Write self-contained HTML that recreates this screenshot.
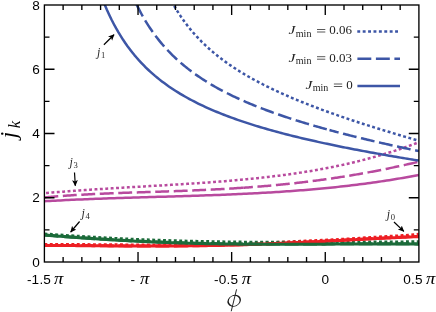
<!DOCTYPE html>
<html><head><meta charset="utf-8"><title>chart</title>
<style>html,body{margin:0;padding:0;background:#fff;}body{width:436px;height:312px;overflow:hidden;font-family:"Liberation Sans",sans-serif;}svg{display:block;} svg text{filter:grayscale(1);}</style>
</head><body>
<svg width="436" height="312" viewBox="0 0 436 312">
<defs><clipPath id="c"><rect x="44.4" y="5.0" width="374.5" height="257.0"/></clipPath>
<marker id="ah" markerWidth="10" markerHeight="10" refX="5.6" refY="3" orient="auto" markerUnits="userSpaceOnUse"><path d="M0,0.1 L6.2,3 L0,5.9 L1.5,3 Z" fill="#000"/></marker></defs>
<g clip-path="url(#c)" fill="none" stroke-linejoin="round">
<path d="M44.40,244.40 L47.09,244.40 L49.79,244.40 L52.48,244.40 L55.18,244.41 L57.87,244.42 L60.57,244.43 L63.26,244.44 L65.95,244.46 L68.65,244.47 L71.34,244.49 L74.04,244.51 L76.73,244.53 L79.43,244.54 L82.12,244.57 L84.81,244.59 L87.51,244.61 L90.20,244.63 L92.90,244.65 L95.59,244.67 L98.28,244.69 L100.98,244.72 L103.67,244.74 L106.37,244.76 L109.06,244.78 L111.76,244.80 L114.45,244.82 L117.14,244.84 L119.84,244.86 L122.53,244.87 L125.23,244.89 L127.92,244.91 L130.62,244.92 L133.31,244.93 L136.00,244.94 L138.70,244.95 L141.39,244.96 L144.09,244.97 L146.78,244.97 L149.48,244.97 L152.17,244.98 L154.86,244.98 L157.56,244.97 L160.25,244.97 L162.95,244.96 L165.64,244.95 L168.34,244.94 L171.03,244.93 L173.72,244.91 L176.42,244.90 L179.11,244.88 L181.81,244.85 L184.50,244.83 L187.19,244.80 L189.89,244.77 L192.58,244.74 L195.28,244.71 L197.97,244.67 L200.67,244.63 L203.36,244.59 L206.05,244.54 L208.75,244.50 L211.44,244.45 L214.14,244.39 L216.83,244.34 L219.53,244.28 L222.22,244.22 L224.91,244.15 L227.61,244.09 L230.30,244.02 L233.00,243.95 L235.69,243.87 L238.39,243.80 L241.08,243.72 L243.77,243.64 L246.47,243.55 L249.16,243.46 L251.86,243.37 L254.55,243.28 L257.25,243.19 L259.94,243.09 L262.63,242.99 L265.33,242.89 L268.02,242.78 L270.72,242.68 L273.41,242.57 L276.11,242.46 L278.80,242.35 L281.49,242.23 L284.19,242.11 L286.88,241.99 L289.58,241.87 L292.27,241.75 L294.96,241.62 L297.66,241.50 L300.35,241.37 L303.05,241.24 L305.74,241.11 L308.44,240.97 L311.13,240.84 L313.82,240.71 L316.52,240.58 L319.21,240.45 L321.91,240.33 L324.60,240.20 L327.30,240.07 L329.99,239.94 L332.68,239.81 L335.38,239.68 L338.07,239.54 L340.77,239.40 L343.46,239.25 L346.16,239.09 L348.85,238.92 L351.54,238.76 L354.24,238.58 L356.93,238.41 L359.63,238.23 L362.32,238.05 L365.02,237.87 L367.71,237.69 L370.40,237.51 L373.10,237.34 L375.79,237.17 L378.49,237.01 L381.18,236.85 L383.87,236.70 L386.57,236.55 L389.26,236.40 L391.96,236.25 L394.65,236.10 L397.35,235.95 L400.04,235.79 L402.73,235.62 L405.43,235.42 L408.12,235.21 L410.82,234.99 L413.51,234.75 L416.21,234.51 L418.90,234.26" stroke="#ed1f24" stroke-width="3.0" stroke-dasharray="2.9 2.5"/>
<path d="M170.00,-1.80 L171.79,1.56 L173.58,4.78 L175.37,7.85 L177.16,10.79 L178.95,13.62 L180.74,16.32 L182.53,18.93 L184.33,21.43 L186.12,23.85 L187.91,26.18 L189.70,28.42 L191.49,30.60 L193.28,32.70 L195.07,34.73 L196.86,36.70 L198.65,38.61 L200.44,40.46 L202.23,42.26 L204.02,44.01 L205.81,45.72 L207.60,47.37 L209.39,48.98 L211.18,50.56 L212.98,52.09 L214.77,53.59 L216.56,55.05 L218.35,56.47 L220.14,57.87 L221.93,59.23 L223.72,60.57 L225.51,61.87 L227.30,63.15 L229.09,64.41 L230.88,65.64 L232.67,66.84 L234.46,68.03 L236.25,69.19 L238.04,70.33 L239.84,71.45 L241.63,72.55 L243.42,73.63 L245.21,74.70 L247.00,75.74 L248.79,76.78 L250.58,77.79 L252.37,78.79 L254.16,79.77 L255.95,80.75 L257.74,81.70 L259.53,82.65 L261.32,83.58 L263.11,84.49 L264.90,85.40 L266.69,86.29 L268.49,87.18 L270.28,88.05 L272.07,88.91 L273.86,89.76 L275.65,90.60 L277.44,91.44 L279.23,92.26 L281.02,93.07 L282.81,93.88 L284.60,94.67 L286.39,95.46 L288.18,96.24 L289.97,97.01 L291.76,97.78 L293.55,98.53 L295.35,99.28 L297.14,100.03 L298.93,100.76 L300.72,101.49 L302.51,102.22 L304.30,102.94 L306.09,103.65 L307.88,104.35 L309.67,105.05 L311.46,105.74 L313.25,106.43 L315.04,107.12 L316.83,107.79 L318.62,108.47 L320.41,109.14 L322.21,109.80 L324.00,110.46 L325.79,111.11 L327.58,111.76 L329.37,112.41 L331.16,113.05 L332.95,113.68 L334.74,114.32 L336.53,114.94 L338.32,115.57 L340.11,116.19 L341.90,116.81 L343.69,117.42 L345.48,118.03 L347.27,118.64 L349.06,119.24 L350.86,119.84 L352.65,120.44 L354.44,121.03 L356.23,121.62 L358.02,122.21 L359.81,122.79 L361.60,123.37 L363.39,123.95 L365.18,124.53 L366.97,125.10 L368.76,125.67 L370.55,126.24 L372.34,126.80 L374.13,127.37 L375.92,127.93 L377.72,128.48 L379.51,129.04 L381.30,129.59 L383.09,130.14 L384.88,130.69 L386.67,131.24 L388.46,131.78 L390.25,132.32 L392.04,132.86 L393.83,133.40 L395.62,133.94 L397.41,134.47 L399.20,135.00 L400.99,135.53 L402.78,136.06 L404.57,136.59 L406.37,137.11 L408.16,137.63 L409.95,138.15 L411.74,138.67 L413.53,139.19 L415.32,139.71 L417.11,140.22 L418.90,140.73" stroke="#3d56a6" stroke-width="2.5" stroke-dasharray="2.9 2.5" stroke-dashoffset="2.08"/>
<path d="M44.40,193.21 L47.09,192.98 L49.79,192.75 L52.48,192.52 L55.18,192.30 L57.87,192.08 L60.57,191.87 L63.26,191.65 L65.95,191.45 L68.65,191.24 L71.34,191.04 L74.04,190.84 L76.73,190.65 L79.43,190.45 L82.12,190.26 L84.81,190.08 L87.51,189.89 L90.20,189.71 L92.90,189.53 L95.59,189.36 L98.28,189.18 L100.98,189.01 L103.67,188.84 L106.37,188.67 L109.06,188.50 L111.76,188.33 L114.45,188.17 L117.14,188.01 L119.84,187.85 L122.53,187.69 L125.23,187.53 L127.92,187.37 L130.62,187.21 L133.31,187.05 L136.00,186.90 L138.70,186.74 L141.39,186.59 L144.09,186.43 L146.78,186.27 L149.48,186.12 L152.17,185.96 L154.86,185.81 L157.56,185.65 L160.25,185.49 L162.95,185.33 L165.64,185.17 L168.34,185.01 L171.03,184.85 L173.72,184.69 L176.42,184.53 L179.11,184.36 L181.81,184.19 L184.50,184.02 L187.19,183.85 L189.89,183.68 L192.58,183.50 L195.28,183.32 L197.97,183.14 L200.67,182.96 L203.36,182.77 L206.05,182.58 L208.75,182.38 L211.44,182.19 L214.14,181.99 L216.83,181.78 L219.53,181.57 L222.22,181.36 L224.91,181.14 L227.61,180.92 L230.30,180.70 L233.00,180.47 L235.69,180.23 L238.39,179.99 L241.08,179.74 L243.77,179.49 L246.47,179.23 L249.16,178.97 L251.86,178.70 L254.55,178.43 L257.25,178.15 L259.94,177.86 L262.63,177.56 L265.33,177.26 L268.02,176.95 L270.72,176.64 L273.41,176.31 L276.11,175.98 L278.80,175.65 L281.49,175.30 L284.19,174.94 L286.88,174.58 L289.58,174.21 L292.27,173.83 L294.96,173.44 L297.66,173.04 L300.35,172.63 L303.05,172.21 L305.74,171.79 L308.44,171.35 L311.13,170.90 L313.82,170.44 L316.52,169.98 L319.21,169.50 L321.91,169.01 L324.60,168.51 L327.30,167.99 L329.99,167.47 L332.68,166.93 L335.38,166.39 L338.07,165.82 L340.77,165.25 L343.46,164.67 L346.16,164.07 L348.85,163.46 L351.54,162.83 L354.24,162.19 L356.93,161.54 L359.63,160.87 L362.32,160.19 L365.02,159.50 L367.71,158.79 L370.40,158.07 L373.10,157.33 L375.79,156.57 L378.49,155.80 L381.18,155.01 L383.87,154.21 L386.57,153.39 L389.26,152.56 L391.96,151.70 L394.65,150.84 L397.35,149.95 L400.04,149.04 L402.73,148.12 L405.43,147.18 L408.12,146.23 L410.82,145.25 L413.51,144.25 L416.21,143.24 L418.90,142.21" stroke="#b84a9e" stroke-width="2.5" stroke-dasharray="2.9 2.5" stroke-dashoffset="3.75"/>
<path d="M44.40,233.98 L47.09,234.18 L49.79,234.37 L52.48,234.56 L55.18,234.75 L57.87,234.93 L60.57,235.12 L63.26,235.30 L65.95,235.48 L68.65,235.66 L71.34,235.84 L74.04,236.01 L76.73,236.19 L79.43,236.36 L82.12,236.53 L84.81,236.69 L87.51,236.86 L90.20,237.02 L92.90,237.18 L95.59,237.34 L98.28,237.49 L100.98,237.65 L103.67,237.80 L106.37,237.95 L109.06,238.09 L111.76,238.24 L114.45,238.38 L117.14,238.52 L119.84,238.65 L122.53,238.79 L125.23,238.92 L127.92,239.05 L130.62,239.17 L133.31,239.30 L136.00,239.42 L138.70,239.53 L141.39,239.65 L144.09,239.76 L146.78,239.86 L149.48,239.97 L152.17,240.07 L154.86,240.17 L157.56,240.26 L160.25,240.36 L162.95,240.45 L165.64,240.53 L168.34,240.62 L171.03,240.70 L173.72,240.78 L176.42,240.86 L179.11,240.93 L181.81,241.00 L184.50,241.07 L187.19,241.14 L189.89,241.20 L192.58,241.27 L195.28,241.33 L197.97,241.39 L200.67,241.44 L203.36,241.50 L206.05,241.55 L208.75,241.60 L211.44,241.65 L214.14,241.70 L216.83,241.75 L219.53,241.79 L222.22,241.83 L224.91,241.88 L227.61,241.92 L230.30,241.96 L233.00,241.99 L235.69,242.03 L238.39,242.06 L241.08,242.10 L243.77,242.13 L246.47,242.16 L249.16,242.18 L251.86,242.21 L254.55,242.23 L257.25,242.25 L259.94,242.27 L262.63,242.29 L265.33,242.31 L268.02,242.32 L270.72,242.34 L273.41,242.35 L276.11,242.36 L278.80,242.36 L281.49,242.37 L284.19,242.37 L286.88,242.38 L289.58,242.38 L292.27,242.37 L294.96,242.37 L297.66,242.36 L300.35,242.36 L303.05,242.35 L305.74,242.34 L308.44,242.32 L311.13,242.31 L313.82,242.29 L316.52,242.28 L319.21,242.26 L321.91,242.25 L324.60,242.23 L327.30,242.21 L329.99,242.19 L332.68,242.18 L335.38,242.16 L338.07,242.14 L340.77,242.13 L343.46,242.11 L346.16,242.09 L348.85,242.08 L351.54,242.07 L354.24,242.05 L356.93,242.04 L359.63,242.03 L362.32,242.02 L365.02,242.01 L367.71,242.00 L370.40,241.99 L373.10,241.99 L375.79,241.98 L378.49,241.98 L381.18,241.98 L383.87,241.97 L386.57,241.96 L389.26,241.95 L391.96,241.94 L394.65,241.92 L397.35,241.91 L400.04,241.90 L402.73,241.88 L405.43,241.87 L408.12,241.86 L410.82,241.86 L413.51,241.85 L416.21,241.85 L418.90,241.85" stroke="#1b6b3a" stroke-width="3.0" stroke-dasharray="2.9 2.5"/>
<path d="M44.40,245.39 L47.09,245.39 L49.79,245.39 L52.48,245.39 L55.18,245.40 L57.87,245.41 L60.57,245.42 L63.26,245.43 L65.95,245.45 L68.65,245.46 L71.34,245.48 L74.04,245.50 L76.73,245.52 L79.43,245.53 L82.12,245.56 L84.81,245.58 L87.51,245.60 L90.20,245.62 L92.90,245.64 L95.59,245.66 L98.28,245.68 L100.98,245.71 L103.67,245.73 L106.37,245.75 L109.06,245.77 L111.76,245.79 L114.45,245.81 L117.14,245.83 L119.84,245.85 L122.53,245.86 L125.23,245.88 L127.92,245.90 L130.62,245.91 L133.31,245.92 L136.00,245.93 L138.70,245.94 L141.39,245.95 L144.09,245.96 L146.78,245.96 L149.48,245.96 L152.17,245.97 L154.86,245.97 L157.56,245.96 L160.25,245.96 L162.95,245.95 L165.64,245.94 L168.34,245.93 L171.03,245.92 L173.72,245.90 L176.42,245.89 L179.11,245.87 L181.81,245.84 L184.50,245.82 L187.19,245.79 L189.89,245.76 L192.58,245.73 L195.28,245.70 L197.97,245.66 L200.67,245.62 L203.36,245.58 L206.05,245.53 L208.75,245.49 L211.44,245.44 L214.14,245.38 L216.83,245.33 L219.53,245.27 L222.22,245.21 L224.91,245.14 L227.61,245.08 L230.30,245.01 L233.00,244.94 L235.69,244.86 L238.39,244.79 L241.08,244.71 L243.77,244.63 L246.47,244.54 L249.16,244.45 L251.86,244.36 L254.55,244.27 L257.25,244.18 L259.94,244.08 L262.63,243.98 L265.33,243.88 L268.02,243.77 L270.72,243.67 L273.41,243.56 L276.11,243.45 L278.80,243.34 L281.49,243.22 L284.19,243.10 L286.88,242.98 L289.58,242.86 L292.27,242.74 L294.96,242.61 L297.66,242.49 L300.35,242.36 L303.05,242.23 L305.74,242.10 L308.44,241.96 L311.13,241.83 L313.82,241.70 L316.52,241.56 L319.21,241.42 L321.91,241.28 L324.60,241.15 L327.30,241.01 L329.99,240.87 L332.68,240.72 L335.38,240.58 L338.07,240.44 L340.77,240.30 L343.46,240.15 L346.16,240.01 L348.85,239.86 L351.54,239.71 L354.24,239.57 L356.93,239.42 L359.63,239.27 L362.32,239.13 L365.02,238.98 L367.71,238.84 L370.40,238.69 L373.10,238.55 L375.79,238.41 L378.49,238.27 L381.18,238.14 L383.87,238.00 L386.57,237.87 L389.26,237.74 L391.96,237.61 L394.65,237.48 L397.35,237.35 L400.04,237.23 L402.73,237.11 L405.43,236.98 L408.12,236.86 L410.82,236.74 L413.51,236.63 L416.21,236.51 L418.90,236.40" stroke="#ed1f24" stroke-width="3.0" stroke-dasharray="13.9 4.6"/>
<path d="M133.00,-3.20 L134.41,-0.06 L135.83,2.96 L137.24,5.87 L138.65,8.68 L140.07,11.38 L141.48,14.00 L142.90,16.52 L144.31,18.96 L145.72,21.32 L147.14,23.61 L148.55,25.83 L149.96,27.97 L151.38,30.06 L152.79,32.08 L154.21,34.04 L155.62,35.95 L157.03,37.81 L158.45,39.61 L159.86,41.37 L161.27,43.08 L162.69,44.74 L164.10,46.36 L165.51,47.95 L166.93,49.49 L168.34,51.00 L169.76,52.47 L171.17,53.90 L172.58,55.31 L174.00,56.68 L175.41,58.02 L176.82,59.33 L178.24,60.62 L179.65,61.87 L181.06,63.10 L182.48,64.31 L183.89,65.49 L185.31,66.65 L186.72,67.78 L188.13,68.89 L189.55,69.99 L190.96,71.06 L192.37,72.11 L193.79,73.14 L195.20,74.16 L196.62,75.15 L198.03,76.13 L199.44,77.09 L200.86,78.04 L202.27,78.97 L203.68,79.89 L205.10,80.79 L206.51,81.67 L207.92,82.55 L209.34,83.40 L210.75,84.25 L212.17,85.08 L213.58,85.90 L214.99,86.71 L216.41,87.51 L217.82,88.30 L219.23,89.07 L220.65,89.83 L222.06,90.59 L223.47,91.33 L224.89,92.06 L226.30,92.79 L227.72,93.50 L229.13,94.21 L230.54,94.91 L231.96,95.59 L233.37,96.27 L234.78,96.94 L236.20,97.61 L237.61,98.26 L239.03,98.91 L240.44,99.55 L241.85,100.18 L243.27,100.81 L244.68,101.43 L246.09,102.04 L247.51,102.64 L248.92,103.24 L250.33,103.84 L251.75,104.42 L253.16,105.00 L254.58,105.58 L255.99,106.15 L257.40,106.71 L258.82,107.27 L260.23,107.82 L261.64,108.36 L263.06,108.91 L264.47,109.44 L265.88,109.97 L267.30,110.50 L268.71,111.02 L270.13,111.54 L271.54,112.05 L272.95,112.56 L274.37,113.07 L275.78,113.57 L277.19,114.06 L278.61,114.55 L280.02,115.04 L281.44,115.52 L282.85,116.00 L284.26,116.48 L285.68,116.95 L287.09,117.42 L288.50,117.88 L289.92,118.35 L291.33,118.80 L292.74,119.26 L294.16,119.71 L295.57,120.16 L296.99,120.60 L298.40,121.04 L299.81,121.48 L301.23,121.92 L302.64,122.35 L304.05,122.78 L305.47,123.20 L306.88,123.63 L308.29,124.05 L309.71,124.47 L311.12,124.88 L312.54,125.30 L313.95,125.71 L315.36,126.11 L316.78,126.52 L318.19,126.92 L319.60,127.32 L321.02,127.72 L322.43,128.12 L323.85,128.51 L325.26,128.90 L326.67,129.29 L328.09,129.68 L329.50,130.06" stroke="#3d56a6" stroke-width="2.5" stroke-dasharray="13.9 4.6" stroke-dashoffset="10.5"/>
<path d="M329.50,130.06 L331.02,130.47 L332.53,130.88 L334.05,131.28 L335.56,131.69 L337.08,132.09 L338.59,132.48 L340.11,132.88 L341.62,133.27 L343.14,133.67 L344.65,134.06 L346.17,134.44 L347.68,134.83 L349.20,135.21 L350.71,135.59 L352.23,135.97 L353.74,136.35 L355.26,136.73 L356.77,137.10 L358.29,137.47 L359.81,137.84 L361.32,138.21 L362.84,138.58 L364.35,138.94 L365.87,139.31 L367.38,139.67 L368.90,140.03 L370.41,140.39 L371.93,140.75 L373.44,141.10 L374.96,141.46 L376.47,141.81 L377.99,142.16 L379.50,142.51 L381.02,142.86 L382.53,143.20 L384.05,143.55 L385.56,143.89 L387.08,144.23 L388.59,144.58 L390.11,144.91 L391.63,145.25 L393.14,145.59 L394.66,145.93 L396.17,146.26 L397.69,146.59 L399.20,146.93 L400.72,147.26 L402.23,147.59 L403.75,147.92 L405.26,148.24 L406.78,148.57 L408.29,148.89 L409.81,149.22 L411.32,149.54 L412.84,149.86 L414.35,150.18 L415.87,150.50 L417.38,150.82 L418.90,151.14" stroke="#3d56a6" stroke-width="2.5" stroke-dasharray="13.9 4.6" stroke-dashoffset="4.5"/>
<path d="M44.40,197.39 L45.83,197.26 L47.26,197.13 L48.69,197.01 L50.12,196.89 L51.55,196.77 L52.98,196.65 L54.41,196.53 L55.84,196.42 L57.27,196.31 L58.70,196.20 L60.13,196.09 L61.56,195.98 L62.99,195.88 L64.42,195.78 L65.85,195.68 L67.28,195.58 L68.71,195.49 L70.14,195.39 L71.57,195.30 L73.00,195.21 L74.43,195.12 L75.86,195.04 L77.29,194.95 L78.73,194.87 L80.16,194.78 L81.59,194.70 L83.02,194.63 L84.45,194.55 L85.88,194.47 L87.31,194.40 L88.74,194.32 L90.17,194.25 L91.60,194.18 L93.03,194.11 L94.46,194.04 L95.89,193.97 L97.32,193.91 L98.75,193.84 L100.18,193.78 L101.61,193.71 L103.04,193.65 L104.47,193.59 L105.90,193.53 L107.33,193.47 L108.76,193.41 L110.19,193.36 L111.62,193.30 L113.05,193.24 L114.48,193.19 L115.91,193.13 L117.34,193.08 L118.77,193.03 L120.20,192.97 L121.63,192.92 L123.06,192.87 L124.49,192.82 L125.92,192.77 L127.35,192.72 L128.78,192.67 L130.21,192.62 L131.64,192.57 L133.07,192.52 L134.50,192.47 L135.93,192.43 L137.36,192.38 L138.79,192.33 L140.22,192.28 L141.65,192.24 L143.08,192.19 L144.52,192.14 L145.95,192.10 L147.38,192.05 L148.81,192.00 L150.24,191.96 L151.67,191.91 L153.10,191.86 L154.53,191.82 L155.96,191.77 L157.39,191.72 L158.82,191.67 L160.25,191.63 L161.68,191.58 L163.11,191.53 L164.54,191.48 L165.97,191.44 L167.40,191.39 L168.83,191.34 L170.26,191.29 L171.69,191.24 L173.12,191.19 L174.55,191.14 L175.98,191.09 L177.41,191.03 L178.84,190.98 L180.27,190.93 L181.70,190.88 L183.13,190.82 L184.56,190.77 L185.99,190.71 L187.42,190.66 L188.85,190.60 L190.28,190.54 L191.71,190.48 L193.14,190.43 L194.57,190.37 L196.00,190.31 L197.43,190.24 L198.86,190.18 L200.29,190.12 L201.72,190.06 L203.15,189.99 L204.58,189.93 L206.01,189.86 L207.44,189.79 L208.87,189.72 L210.31,189.66 L211.74,189.59 L213.17,189.51 L214.60,189.44 L216.03,189.37 L217.46,189.29 L218.89,189.22 L220.32,189.14 L221.75,189.06 L223.18,188.98 L224.61,188.90 L226.04,188.82 L227.47,188.74 L228.90,188.66 L230.33,188.57 L231.76,188.48 L233.19,188.40 L234.62,188.31 L236.05,188.22 L237.48,188.12 L238.91,188.03 L240.34,187.94 L241.77,187.84 L243.20,187.74" stroke="#b84a9e" stroke-width="2.5" stroke-dasharray="13.9 4.6"/>
<path d="M243.20,187.74 L244.46,187.66 L245.73,187.57 L246.99,187.48 L248.26,187.39 L249.52,187.29 L250.78,187.20 L252.05,187.11 L253.31,187.01 L254.58,186.92 L255.84,186.82 L257.10,186.72 L258.37,186.62 L259.63,186.52 L260.90,186.41 L262.16,186.31 L263.42,186.21 L264.69,186.10 L265.95,185.99 L267.22,185.88 L268.48,185.77 L269.74,185.66 L271.01,185.55 L272.27,185.43 L273.54,185.32 L274.80,185.20 L276.06,185.08 L277.33,184.96 L278.59,184.84 L279.86,184.72 L281.12,184.59 L282.38,184.47 L283.65,184.34 L284.91,184.21 L286.18,184.08 L287.44,183.95 L288.71,183.82 L289.97,183.69 L291.23,183.55 L292.50,183.41 L293.76,183.28 L295.03,183.14 L296.29,183.00 L297.55,182.85 L298.82,182.71 L300.08,182.56 L301.35,182.42 L302.61,182.27 L303.87,182.12 L305.14,181.97 L306.40,181.81 L307.67,181.66 L308.93,181.50 L310.19,181.34 L311.46,181.19 L312.72,181.02 L313.99,180.86 L315.25,180.70 L316.51,180.53 L317.78,180.37 L319.04,180.20 L320.31,180.03 L321.57,179.85 L322.83,179.68 L324.10,179.51 L325.36,179.33 L326.63,179.15 L327.89,178.97 L329.15,178.79 L330.42,178.61 L331.68,178.42 L332.95,178.24 L334.21,178.05 L335.47,177.86 L336.74,177.67 L338.00,177.48 L339.27,177.28 L340.53,177.09 L341.79,176.89 L343.06,176.69 L344.32,176.49 L345.59,176.29 L346.85,176.08 L348.11,175.88 L349.38,175.67 L350.64,175.46 L351.91,175.25 L353.17,175.04 L354.43,174.82 L355.70,174.61 L356.96,174.39 L358.23,174.17 L359.49,173.95 L360.75,173.73 L362.02,173.50 L363.28,173.28 L364.55,173.05 L365.81,172.82 L367.07,172.59 L368.34,172.36 L369.60,172.12 L370.87,171.89 L372.13,171.65 L373.39,171.41 L374.66,171.17 L375.92,170.93 L377.19,170.69 L378.45,170.44 L379.72,170.19 L380.98,169.94 L382.24,169.69 L383.51,169.44 L384.77,169.19 L386.04,168.93 L387.30,168.67 L388.56,168.41 L389.83,168.15 L391.09,167.89 L392.36,167.63 L393.62,167.36 L394.88,167.09 L396.15,166.83 L397.41,166.56 L398.68,166.28 L399.94,166.01 L401.20,165.73 L402.47,165.46 L403.73,165.18 L405.00,164.90 L406.26,164.62 L407.52,164.33 L408.79,164.05 L410.05,163.76 L411.32,163.47 L412.58,163.18 L413.84,162.89 L415.11,162.60 L416.37,162.30 L417.64,162.01 L418.90,161.71" stroke="#b84a9e" stroke-width="2.5" stroke-dasharray="13.9 4.6" stroke-dashoffset="4.2"/>
<path d="M44.40,234.97 L47.09,235.19 L49.79,235.40 L52.48,235.61 L55.18,235.81 L57.87,236.02 L60.57,236.22 L63.26,236.43 L65.95,236.63 L68.65,236.82 L71.34,237.02 L74.04,237.21 L76.73,237.40 L79.43,237.59 L82.12,237.78 L84.81,237.96 L87.51,238.15 L90.20,238.33 L92.90,238.50 L95.59,238.68 L98.28,238.85 L100.98,239.02 L103.67,239.19 L106.37,239.35 L109.06,239.51 L111.76,239.67 L114.45,239.83 L117.14,239.98 L119.84,240.13 L122.53,240.28 L125.23,240.42 L127.92,240.57 L130.62,240.71 L133.31,240.84 L136.00,240.98 L138.70,241.11 L141.39,241.23 L144.09,241.36 L146.78,241.48 L149.48,241.60 L152.17,241.72 L154.86,241.83 L157.56,241.94 L160.25,242.05 L162.95,242.15 L165.64,242.25 L168.34,242.35 L171.03,242.45 L173.72,242.54 L176.42,242.63 L179.11,242.71 L181.81,242.80 L184.50,242.88 L187.19,242.96 L189.89,243.03 L192.58,243.10 L195.28,243.17 L197.97,243.24 L200.67,243.31 L203.36,243.37 L206.05,243.43 L208.75,243.48 L211.44,243.54 L214.14,243.59 L216.83,243.63 L219.53,243.68 L222.22,243.72 L224.91,243.77 L227.61,243.80 L230.30,243.84 L233.00,243.87 L235.69,243.91 L238.39,243.93 L241.08,243.96 L243.77,243.99 L246.47,244.01 L249.16,244.03 L251.86,244.05 L254.55,244.06 L257.25,244.08 L259.94,244.09 L262.63,244.10 L265.33,244.11 L268.02,244.12 L270.72,244.12 L273.41,244.12 L276.11,244.12 L278.80,244.12 L281.49,244.12 L284.19,244.12 L286.88,244.11 L289.58,244.11 L292.27,244.10 L294.96,244.09 L297.66,244.08 L300.35,244.07 L303.05,244.06 L305.74,244.05 L308.44,244.03 L311.13,244.02 L313.82,244.00 L316.52,243.99 L319.21,243.97 L321.91,243.96 L324.60,243.94 L327.30,243.92 L329.99,243.90 L332.68,243.89 L335.38,243.87 L338.07,243.85 L340.77,243.84 L343.46,243.82 L346.16,243.80 L348.85,243.79 L351.54,243.78 L354.24,243.76 L356.93,243.75 L359.63,243.74 L362.32,243.73 L365.02,243.72 L367.71,243.71 L370.40,243.70 L373.10,243.70 L375.79,243.69 L378.49,243.69 L381.18,243.69 L383.87,243.69 L386.57,243.69 L389.26,243.70 L391.96,243.71 L394.65,243.71 L397.35,243.73 L400.04,243.74 L402.73,243.76 L405.43,243.77 L408.12,243.80 L410.82,243.82 L413.51,243.85 L416.21,243.88 L418.90,243.92" stroke="#1b6b3a" stroke-width="3.0" stroke-dasharray="13.9 4.6"/>
<path d="M44.40,245.50 L47.09,245.50 L49.79,245.50 L52.48,245.50 L55.18,245.51 L57.87,245.52 L60.57,245.53 L63.26,245.54 L65.95,245.56 L68.65,245.57 L71.34,245.59 L74.04,245.61 L76.73,245.63 L79.43,245.64 L82.12,245.67 L84.81,245.69 L87.51,245.71 L90.20,245.73 L92.90,245.75 L95.59,245.77 L98.28,245.79 L100.98,245.82 L103.67,245.84 L106.37,245.86 L109.06,245.88 L111.76,245.90 L114.45,245.92 L117.14,245.94 L119.84,245.96 L122.53,245.97 L125.23,245.99 L127.92,246.01 L130.62,246.02 L133.31,246.03 L136.00,246.04 L138.70,246.05 L141.39,246.06 L144.09,246.07 L146.78,246.07 L149.48,246.07 L152.17,246.08 L154.86,246.08 L157.56,246.07 L160.25,246.07 L162.95,246.06 L165.64,246.05 L168.34,246.04 L171.03,246.03 L173.72,246.01 L176.42,246.00 L179.11,245.98 L181.81,245.95 L184.50,245.93 L187.19,245.90 L189.89,245.87 L192.58,245.84 L195.28,245.81 L197.97,245.77 L200.67,245.73 L203.36,245.69 L206.05,245.64 L208.75,245.60 L211.44,245.55 L214.14,245.49 L216.83,245.44 L219.53,245.38 L222.22,245.32 L224.91,245.25 L227.61,245.19 L230.30,245.12 L233.00,245.05 L235.69,244.97 L238.39,244.90 L241.08,244.82 L243.77,244.74 L246.47,244.65 L249.16,244.56 L251.86,244.47 L254.55,244.38 L257.25,244.29 L259.94,244.19 L262.63,244.09 L265.33,243.99 L268.02,243.88 L270.72,243.78 L273.41,243.67 L276.11,243.56 L278.80,243.45 L281.49,243.33 L284.19,243.21 L286.88,243.09 L289.58,242.97 L292.27,242.85 L294.96,242.72 L297.66,242.60 L300.35,242.47 L303.05,242.34 L305.74,242.21 L308.44,242.07 L311.13,241.94 L313.82,241.80 L316.52,241.67 L319.21,241.53 L321.91,241.39 L324.60,241.25 L327.30,241.11 L329.99,240.97 L332.68,240.83 L335.38,240.68 L338.07,240.54 L340.77,240.40 L343.46,240.25 L346.16,240.11 L348.85,239.96 L351.54,239.82 L354.24,239.68 L356.93,239.53 L359.63,239.39 L362.32,239.25 L365.02,239.11 L367.71,238.97 L370.40,238.83 L373.10,238.69 L375.79,238.55 L378.49,238.41 L381.18,238.28 L383.87,238.14 L386.57,238.01 L389.26,237.88 L391.96,237.76 L394.65,237.63 L397.35,237.51 L400.04,237.39 L402.73,237.27 L405.43,237.16 L408.12,237.05 L410.82,236.94 L413.51,236.83 L416.21,236.73 L418.90,236.64" stroke="#ed1f24" stroke-width="3.0"/>
<path d="M100.00,-7.58 L102.29,-1.42 L104.59,4.33 L106.88,9.71 L109.18,14.75 L111.47,19.50 L113.77,23.97 L116.06,28.19 L118.35,32.18 L120.65,35.96 L122.94,39.55 L125.24,42.96 L127.53,46.21 L129.83,49.30 L132.12,52.25 L134.41,55.08 L136.71,57.78 L139.00,60.37 L141.30,62.85 L143.59,65.23 L145.88,67.52 L148.18,69.73 L150.47,71.85 L152.77,73.89 L155.06,75.87 L157.36,77.77 L159.65,79.61 L161.94,81.39 L164.24,83.12 L166.53,84.79 L168.83,86.40 L171.12,87.97 L173.42,89.50 L175.71,90.97 L178.00,92.41 L180.30,93.81 L182.59,95.17 L184.89,96.49 L187.18,97.78 L189.48,99.04 L191.77,100.26 L194.06,101.46 L196.36,102.62 L198.65,103.76 L200.95,104.87 L203.24,105.96 L205.54,107.02 L207.83,108.06 L210.12,109.08 L212.42,110.08 L214.71,111.05 L217.01,112.01 L219.30,112.94 L221.59,113.86 L223.89,114.76 L226.18,115.65 L228.48,116.51 L230.77,117.36 L233.07,118.20 L235.36,119.02 L237.65,119.83 L239.95,120.62 L242.24,121.40 L244.54,122.17 L246.83,122.93 L249.13,123.67 L251.42,124.40 L253.71,125.12 L256.01,125.83 L258.30,126.53 L260.60,127.22 L262.89,127.90 L265.19,128.56 L267.48,129.22 L269.77,129.88 L272.07,130.52 L274.36,131.15 L276.66,131.78 L278.95,132.39 L281.25,133.00 L283.54,133.60 L285.83,134.20 L288.13,134.79 L290.42,135.37 L292.72,135.94 L295.01,136.51 L297.31,137.07 L299.60,137.62 L301.89,138.17 L304.19,138.71 L306.48,139.25 L308.78,139.78 L311.07,140.30 L313.36,140.82 L315.66,141.34 L317.95,141.85 L320.25,142.35 L322.54,142.85 L324.84,143.35 L327.13,143.84 L329.42,144.32 L331.72,144.80 L334.01,145.28 L336.31,145.75 L338.60,146.22 L340.90,146.69 L343.19,147.15 L345.48,147.61 L347.78,148.06 L350.07,148.51 L352.37,148.95 L354.66,149.40 L356.96,149.84 L359.25,150.27 L361.54,150.70 L363.84,151.13 L366.13,151.56 L368.43,151.98 L370.72,152.40 L373.02,152.82 L375.31,153.23 L377.60,153.64 L379.90,154.05 L382.19,154.46 L384.49,154.86 L386.78,155.26 L389.07,155.66 L391.37,156.05 L393.66,156.45 L395.96,156.84 L398.25,157.22 L400.55,157.61 L402.84,157.99 L405.13,158.37 L407.43,158.75 L409.72,159.13 L412.02,159.50 L414.31,159.88 L416.61,160.25 L418.90,160.61" stroke="#3d56a6" stroke-width="2.5"/>
<path d="M44.40,201.26 L47.09,201.11 L49.79,200.95 L52.48,200.80 L55.18,200.66 L57.87,200.52 L60.57,200.38 L63.26,200.24 L65.95,200.11 L68.65,199.98 L71.34,199.86 L74.04,199.73 L76.73,199.61 L79.43,199.50 L82.12,199.38 L84.81,199.27 L87.51,199.16 L90.20,199.05 L92.90,198.95 L95.59,198.85 L98.28,198.75 L100.98,198.65 L103.67,198.55 L106.37,198.46 L109.06,198.36 L111.76,198.27 L114.45,198.18 L117.14,198.09 L119.84,198.00 L122.53,197.92 L125.23,197.83 L127.92,197.75 L130.62,197.67 L133.31,197.59 L136.00,197.50 L138.70,197.42 L141.39,197.34 L144.09,197.26 L146.78,197.19 L149.48,197.11 L152.17,197.03 L154.86,196.95 L157.56,196.87 L160.25,196.79 L162.95,196.72 L165.64,196.64 L168.34,196.56 L171.03,196.48 L173.72,196.40 L176.42,196.32 L179.11,196.24 L181.81,196.16 L184.50,196.07 L187.19,195.99 L189.89,195.91 L192.58,195.82 L195.28,195.73 L197.97,195.64 L200.67,195.55 L203.36,195.46 L206.05,195.37 L208.75,195.27 L211.44,195.18 L214.14,195.08 L216.83,194.98 L219.53,194.88 L222.22,194.77 L224.91,194.66 L227.61,194.55 L230.30,194.44 L233.00,194.33 L235.69,194.21 L238.39,194.09 L241.08,193.97 L243.77,193.84 L246.47,193.71 L249.16,193.58 L251.86,193.45 L254.55,193.31 L257.25,193.17 L259.94,193.02 L262.63,192.87 L265.33,192.72 L268.02,192.56 L270.72,192.40 L273.41,192.24 L276.11,192.07 L278.80,191.90 L281.49,191.72 L284.19,191.54 L286.88,191.36 L289.58,191.17 L292.27,190.97 L294.96,190.78 L297.66,190.57 L300.35,190.36 L303.05,190.15 L305.74,189.93 L308.44,189.71 L311.13,189.48 L313.82,189.25 L316.52,189.01 L319.21,188.76 L321.91,188.51 L324.60,188.25 L327.30,187.99 L329.99,187.72 L332.68,187.45 L335.38,187.17 L338.07,186.88 L340.77,186.59 L343.46,186.29 L346.16,185.98 L348.85,185.67 L351.54,185.35 L354.24,185.03 L356.93,184.70 L359.63,184.36 L362.32,184.01 L365.02,183.66 L367.71,183.30 L370.40,182.93 L373.10,182.55 L375.79,182.17 L378.49,181.78 L381.18,181.38 L383.87,180.98 L386.57,180.56 L389.26,180.14 L391.96,179.71 L394.65,179.27 L397.35,178.83 L400.04,178.37 L402.73,177.91 L405.43,177.44 L408.12,176.96 L410.82,176.47 L413.51,175.98 L416.21,175.47 L418.90,174.96" stroke="#b84a9e" stroke-width="2.5"/>
<path d="M44.40,235.08 L47.09,235.30 L49.79,235.51 L52.48,235.72 L55.18,235.93 L57.87,236.14 L60.57,236.35 L63.26,236.55 L65.95,236.75 L68.65,236.95 L71.34,237.15 L74.04,237.35 L76.73,237.54 L79.43,237.73 L82.12,237.92 L84.81,238.11 L87.51,238.29 L90.20,238.47 L92.90,238.65 L95.59,238.83 L98.28,239.00 L100.98,239.17 L103.67,239.34 L106.37,239.51 L109.06,239.67 L111.76,239.83 L114.45,239.99 L117.14,240.14 L119.84,240.30 L122.53,240.45 L125.23,240.59 L127.92,240.74 L130.62,240.88 L133.31,241.01 L136.00,241.15 L138.70,241.28 L141.39,241.41 L144.09,241.54 L146.78,241.66 L149.48,241.78 L152.17,241.90 L154.86,242.01 L157.56,242.13 L160.25,242.23 L162.95,242.34 L165.64,242.44 L168.34,242.54 L171.03,242.64 L173.72,242.73 L176.42,242.82 L179.11,242.91 L181.81,243.00 L184.50,243.08 L187.19,243.16 L189.89,243.24 L192.58,243.31 L195.28,243.38 L197.97,243.45 L200.67,243.51 L203.36,243.57 L206.05,243.63 L208.75,243.69 L211.44,243.74 L214.14,243.80 L216.83,243.84 L219.53,243.89 L222.22,243.93 L224.91,243.98 L227.61,244.01 L230.30,244.05 L233.00,244.08 L235.69,244.11 L238.39,244.14 L241.08,244.17 L243.77,244.19 L246.47,244.21 L249.16,244.23 L251.86,244.25 L254.55,244.27 L257.25,244.28 L259.94,244.29 L262.63,244.30 L265.33,244.31 L268.02,244.31 L270.72,244.32 L273.41,244.32 L276.11,244.32 L278.80,244.32 L281.49,244.32 L284.19,244.31 L286.88,244.31 L289.58,244.30 L292.27,244.29 L294.96,244.28 L297.66,244.27 L300.35,244.26 L303.05,244.25 L305.74,244.24 L308.44,244.22 L311.13,244.21 L313.82,244.19 L316.52,244.18 L319.21,244.16 L321.91,244.15 L324.60,244.13 L327.30,244.11 L329.99,244.09 L332.68,244.08 L335.38,244.06 L338.07,244.04 L340.77,244.03 L343.46,244.01 L346.16,243.99 L348.85,243.98 L351.54,243.97 L354.24,243.95 L356.93,243.94 L359.63,243.93 L362.32,243.92 L365.02,243.91 L367.71,243.90 L370.40,243.89 L373.10,243.89 L375.79,243.88 L378.49,243.88 L381.18,243.88 L383.87,243.88 L386.57,243.89 L389.26,243.89 L391.96,243.90 L394.65,243.91 L397.35,243.93 L400.04,243.94 L402.73,243.96 L405.43,243.99 L408.12,244.01 L410.82,244.04 L413.51,244.07 L416.21,244.11 L418.90,244.15" stroke="#1b6b3a" stroke-width="3.0"/>
</g>
<g fill="none" stroke="#3d56a6" stroke-width="2.5">
<path d="M357.3,31.5 H400" stroke-dasharray="2.9 2.5"/>
<path d="M357.4,58.8 H400" stroke-dasharray="13.9 4.6"/>
<path d="M357.4,86 H400"/>
</g>
<g stroke="#000" stroke-width="1.35" fill="none">
<rect x="44.4" y="5.0" width="374.5" height="257.0"/>
<path d="M63.12,262.0 v-5.1 M63.12,5.0 v5.1"/>
<path d="M81.85,262.0 v-5.1 M81.85,5.0 v5.1"/>
<path d="M100.58,262.0 v-5.1 M100.58,5.0 v5.1"/>
<path d="M119.30,262.0 v-5.1 M119.30,5.0 v5.1"/>
<path d="M138.03,262.0 v-10.1 M138.03,5.0 v10.1"/>
<path d="M156.75,262.0 v-5.1 M156.75,5.0 v5.1"/>
<path d="M175.48,262.0 v-5.1 M175.48,5.0 v5.1"/>
<path d="M194.20,262.0 v-5.1 M194.20,5.0 v5.1"/>
<path d="M212.93,262.0 v-5.1 M212.93,5.0 v5.1"/>
<path d="M231.65,262.0 v-10.1 M231.65,5.0 v10.1"/>
<path d="M250.38,262.0 v-5.1 M250.38,5.0 v5.1"/>
<path d="M269.10,262.0 v-5.1 M269.10,5.0 v5.1"/>
<path d="M287.82,262.0 v-5.1 M287.82,5.0 v5.1"/>
<path d="M306.55,262.0 v-5.1 M306.55,5.0 v5.1"/>
<path d="M325.27,262.0 v-10.1 M325.27,5.0 v10.1"/>
<path d="M344.00,262.0 v-5.1 M344.00,5.0 v5.1"/>
<path d="M362.73,262.0 v-5.1 M362.73,5.0 v5.1"/>
<path d="M381.45,262.0 v-5.1 M381.45,5.0 v5.1"/>
<path d="M400.18,262.0 v-5.1 M400.18,5.0 v5.1"/>
<path d="M44.4,229.88 h5.1 M418.9,229.88 h-5.1"/>
<path d="M44.4,197.75 h10.1 M418.9,197.75 h-10.1"/>
<path d="M44.4,165.62 h5.1 M418.9,165.62 h-5.1"/>
<path d="M44.4,133.50 h10.1 M418.9,133.50 h-10.1"/>
<path d="M44.4,101.38 h5.1 M418.9,101.38 h-5.1"/>
<path d="M44.4,69.25 h10.1 M418.9,69.25 h-10.1"/>
<path d="M44.4,37.12 h5.1 M418.9,37.12 h-5.1"/>
</g>
<g font-family="Liberation Sans, sans-serif" font-size="13.6" fill="#000" letter-spacing="0.2">
<text x="40" y="266.70" text-anchor="end">0</text>
<text x="40" y="202.45" text-anchor="end">2</text>
<text x="40" y="138.20" text-anchor="end">4</text>
<text x="40" y="73.95" text-anchor="end">6</text>
<text x="40" y="9.70" text-anchor="end">8</text>
<text x="26.90" y="284">-1.5</text>
<text transform="translate(53.9,284) scale(1.16,1)" font-family="Liberation Serif, serif" font-style="italic" font-size="16" letter-spacing="0">π</text>
<text x="130.60" y="284">-</text>
<text transform="translate(139.9,284) scale(1.16,1)" font-family="Liberation Serif, serif" font-style="italic" font-size="16" letter-spacing="0">π</text>
<text x="214.10" y="284">-0.5</text>
<text transform="translate(241.7,284) scale(1.16,1)" font-family="Liberation Serif, serif" font-style="italic" font-size="16" letter-spacing="0">π</text>
<text x="321.60" y="284">0</text>
<text x="403.20" y="284">0.5</text>
<text transform="translate(425.90000000000003,284) scale(1.16,1)" font-family="Liberation Serif, serif" font-style="italic" font-size="16" letter-spacing="0">π</text>
</g>
<g transform="rotate(-25 234.2 300.8)"><path fill="#1a1a1a" fill-rule="evenodd" d="M227.2,300.8 a7,5.65 0 1,0 14,0 a7,5.65 0 1,0 -14,0 Z M228.7,300.8 a5.5,5.0 0 1,0 11,0 a5.5,5.0 0 1,0 -11,0 Z"/></g>
<path d="M236.5,289.7 L231.3,310.9" stroke="#1a1a1a" stroke-width="0.95" stroke-linecap="round" fill="none"/>
<g font-family="Liberation Serif, serif" font-style="italic" fill="#000">
<text transform="translate(16.1,138.2) rotate(-90)" font-size="23">j</text>
<text transform="translate(19.6,128.3) rotate(-90)" font-size="16.5">k</text>
</g>
<g font-family="Liberation Serif, serif" fill="#222">
<text x="351.9" y="34.4" text-anchor="end" font-size="13">0.06</text>
<path d="M317.0,29.5 H325.3 M317.0,32.0 H325.3" stroke="#111" stroke-width="0.7" fill="none"/>
<text x="295.8" y="36.5" font-size="9.8" textLength="15.6" lengthAdjust="spacingAndGlyphs">min</text>
<text transform="translate(288.5,34.4) scale(1.18,1)" font-size="13.2" font-style="italic">J</text>
<text x="351.9" y="61.6" text-anchor="end" font-size="13">0.03</text>
<path d="M317.0,56.7 H325.3 M317.0,59.2 H325.3" stroke="#111" stroke-width="0.7" fill="none"/>
<text x="295.8" y="63.7" font-size="9.8" textLength="15.6" lengthAdjust="spacingAndGlyphs">min</text>
<text transform="translate(288.5,61.6) scale(1.18,1)" font-size="13.2" font-style="italic">J</text>
<text x="352.7" y="88.9" text-anchor="end" font-size="13">0</text>
<path d="M333.9,84.0 H342.2 M333.9,86.5 H342.2" stroke="#111" stroke-width="0.7" fill="none"/>
<text x="312.7" y="91.0" font-size="9.8" textLength="15.6" lengthAdjust="spacingAndGlyphs">min</text>
<text transform="translate(305.4,88.9) scale(1.18,1)" font-size="13.2" font-style="italic">J</text>
</g>
<g font-family="Liberation Serif, serif" font-style="italic" font-size="12" fill="#2a2a2a">
<text x="97" y="56.2">j</text><text x="100.9" y="58.300000000000004" font-style="normal" font-size="8.6">1</text>
<text x="69.5" y="166">j</text><text x="73.4" y="168.1" font-style="normal" font-size="8.6">3</text>
<text x="81.5" y="217.2">j</text><text x="85.4" y="219.29999999999998" font-style="normal" font-size="8.6">4</text>
<text x="386.8" y="218">j</text><text x="390.7" y="220.1" font-style="normal" font-size="8.6">0</text>
</g>
<g stroke="#000" stroke-width="1.2" fill="none" marker-end="url(#ah)">
<path d="M103.9,44.7 L114,34.7"/>
<path d="M74.5,172.5 L75.3,185.7"/>
<path d="M79.6,221.5 L70.7,232"/>
<path d="M394,222 L403.8,231.4"/>
</g>
</svg>
</body></html>
